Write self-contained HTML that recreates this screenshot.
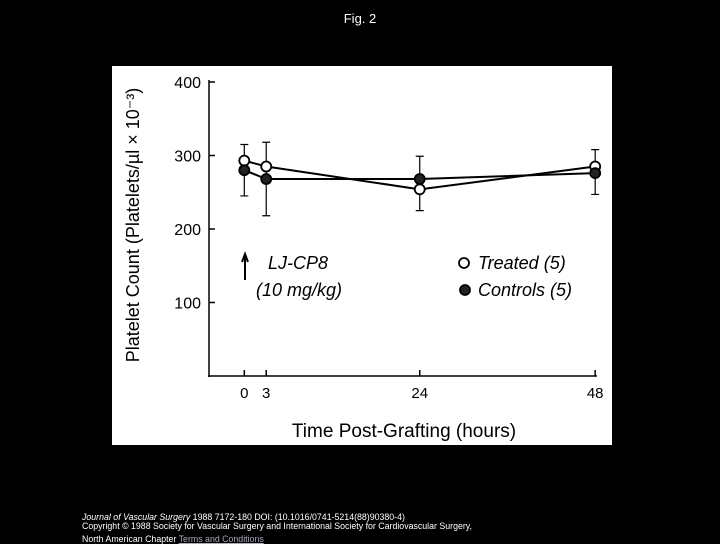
<!DOCTYPE html>
<html><head><meta charset="utf-8"><style>
body{margin:0;background:#000;width:720px;height:540px;overflow:hidden;position:relative;font-family:"Liberation Sans",sans-serif}
.t{position:absolute;color:#fff}
</style></head><body>
<div class="t" style="left:0;width:720px;top:11px;text-align:center;font-size:13px">Fig. 2</div>
<svg width="720" height="540" style="position:absolute;left:0;top:0">
<rect x="112" y="66" width="500" height="379" fill="#fff"/>
<g id="g" font-family="Liberation Sans, sans-serif" fill="#000"></g>
</svg>
<div class="t" style="left:82px;top:513px;font-size:8.8px;line-height:9px;white-space:nowrap"><i>Journal of Vascular Surgery</i> 1988 7172-180 DOI: (10.1016/0741-5214(88)90380-4)<br>Copyright © 1988 Society for Vascular Surgery and International Society for Cardiovascular Surgery,<br><span style="position:relative;top:4px">North American Chapter <u style="color:#aab">Terms and Conditions</u></span></div>
<script>
const hours=[0,3,24,48];
const treated=[293,285,254,285];
const controls=[280,268,268,276];
const errHi=[315,318,299,308];
const errLo=[245,218,225,247];
const yTicks=[100,200,300,400];
const xTicks=[0,3,24,48];
const NS='http://www.w3.org/2000/svg';
const g=document.getElementById('g');
const X=h=>244.3+h*7.31, Y=v=>376-v*0.735;
function mk(t,a,p){const e=document.createElementNS(NS,t);for(const k in a)e.setAttribute(k,a[k]);(p||g).appendChild(e);return e;}
let e;
e=mk('line',{x1:209,y1:80,x2:209,y2:377,stroke:'#000','stroke-width':1.5});


e=mk('line',{x1:208,y1:376,x2:597,y2:376,stroke:'#000','stroke-width':1.5});


yTicks.forEach(v=>{
 e=mk('line',{x1:209,y1:Y(v),x2:215,y2:Y(v),stroke:'#000','stroke-width':1.5});
 
 
 e=mk('text',{x:201,y:Y(v)+6,'text-anchor':'end','font-size':16});e.textContent=v;
 
 
});
xTicks.forEach(h=>{
 e=mk('line',{x1:X(h),y1:370,x2:X(h),y2:376,stroke:'#000','stroke-width':1.5});
 
 
 e=mk('text',{x:X(h),y:398,'text-anchor':'middle','font-size':15});e.textContent=h;
 
 
});
hours.forEach((h,i)=>{
 e=mk('path',{d:`M${X(h)},${Y(errHi[i])}V${Y(errLo[i])}M${X(h)-4},${Y(errHi[i])}h8M${X(h)-4},${Y(errLo[i])}h8`,stroke:'#000','stroke-width':1.2,fill:'none'});
 
 
});
[[treated,'#fff','treated'],[controls,'#222','controls']].forEach(([s,f,n])=>{
 e=mk('polyline',{points:hours.map((h,i)=>X(h)+','+Y(s[i])).join(' '),fill:'none',stroke:'#000','stroke-width':2});
 
 
 hours.forEach((h,i)=>{
  e=mk('circle',{cx:X(h),cy:Y(s[i]),r:5,fill:f,stroke:'#000','stroke-width':1.8});
  
  
 });
});
e=mk('text',{x:0,y:0,transform:'translate(139,225) rotate(-90)','text-anchor':'middle','font-size':18});
e.textContent='Platelet Count (Platelets/\u00B5l \u00D7 10\u207B\u00B3)';


e=mk('text',{x:404,y:437,'text-anchor':'middle','font-size':19});e.textContent='Time Post-Grafting (hours)';


e=mk('path',{d:'M245,280V256M242,262L245,254L248,262',stroke:'#000','stroke-width':2,fill:'none'});


e=mk('text',{x:268,y:269,'font-size':18,'font-style':'italic'});e.textContent='LJ-CP8';


e=mk('text',{x:256,y:296,'font-size':18,'font-style':'italic'});e.textContent='(10 mg/kg)';


e=mk('circle',{cx:464,cy:263,r:5,fill:'#fff',stroke:'#000','stroke-width':1.8});


e=mk('text',{x:478,y:269,'font-size':18,'font-style':'italic'});e.textContent='Treated (5)';


e=mk('circle',{cx:465,cy:290,r:5,fill:'#222',stroke:'#000','stroke-width':1.8});


e=mk('text',{x:478,y:296,'font-size':18,'font-style':'italic'});e.textContent='Controls (5)';


</script>
</body></html>
